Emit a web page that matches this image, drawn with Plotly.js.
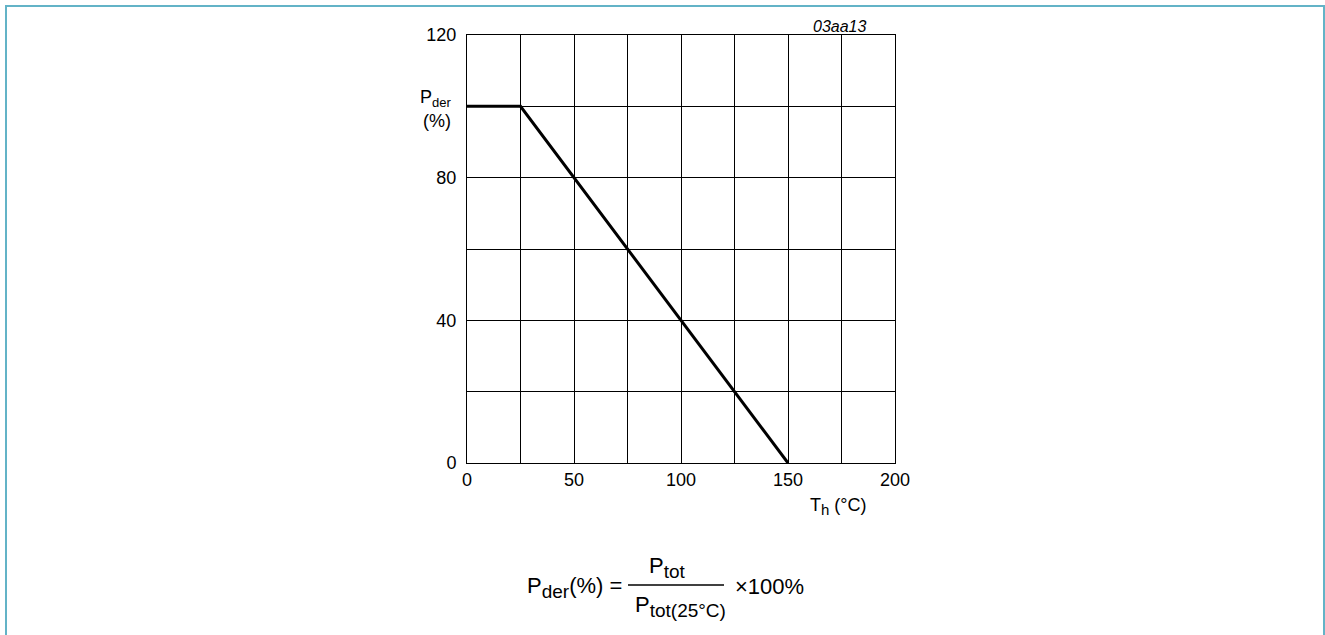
<!DOCTYPE html>
<html>
<head>
<meta charset="utf-8">
<script src="https://cdn.plot.ly/plotly-3.0.1.min.js"></script>
<style>
  html, body { margin: 0; padding: 0; background: #fff; overflow: hidden; }
  #frame { position: absolute; left: 5px; top: 5px; width: 1320px; height: 640px; box-sizing: border-box;
           border-left: 2px solid #63b3c7; border-top: 2px solid #63b3c7; border-right: 2px solid #63b3c7; }
  #chart { position: absolute; left: 0; top: 0; width: 1325px; height: 635px; }
</style>
</head>
<body>
<div id="frame"></div>
<div id="chart"></div>
<script>
// Data
const temperature = [0, 25, 150];      // T_h (°C)
const pderPercent = [100, 100, 0];     // P_der (%)
const xTickVals = [0, 50, 100, 150, 200];
const yTickVals = [0, 40, 80, 120];

const FONT = 'Liberation Sans, Arial, sans-serif';

const trace = {
  x: temperature,
  y: pderPercent,
  type: 'scatter',
  mode: 'lines',
  line: { color: '#000', width: 3 },
  hoverinfo: 'skip',
  showlegend: false
};

const sub = (t, px) => '<sub><span style="font-size:' + px + 'px">' + t + '</span></sub>';

const ann = (text, x, y, xanchor, size) => ({
  text: text, x: x, y: y, xref: 'paper', yref: 'paper',
  xanchor: xanchor, yanchor: 'middle', showarrow: false,
  font: { family: FONT, size: size, color: '#000' }
});

const layout = {
  width: 1325, height: 635,
  margin: { l: 467, r: 430, t: 35, b: 172, pad: 0 },
  paper_bgcolor: 'rgba(0,0,0,0)',
  plot_bgcolor: '#fff',
  showlegend: false,
  font: { family: FONT, size: 18, color: '#000' },
  xaxis: {
    range: [0, 200], tickmode: 'array', tickvals: xTickVals, ticktext: xTickVals.map(String),
    showgrid: true, gridcolor: '#000', gridwidth: 1,
    minor: { dtick: 25, showgrid: true, gridcolor: '#000', gridwidth: 1 },
    showline: true, linecolor: '#000', linewidth: 1, mirror: true,
    zeroline: false, ticks: '', ticklabelstandoff: 0,
    tickfont: { family: FONT, size: 18, color: '#000' },
    fixedrange: true
  },
  yaxis: {
    range: [0, 120], tickmode: 'array', tickvals: yTickVals, ticktext: yTickVals.map(String),
    showgrid: true, gridcolor: '#000', gridwidth: 1,
    minor: { dtick: 20, showgrid: true, gridcolor: '#000', gridwidth: 1 },
    showline: true, linecolor: '#000', linewidth: 1, mirror: true,
    zeroline: false, ticks: '', ticklabelstandoff: 6,
    tickfont: { family: FONT, size: 18, color: '#000' },
    fixedrange: true
  },
  annotations: [
    ann('P' + sub('der', 13), -0.1145, 0.852, 'left', 18),
    ann('(%)', -0.1075, 0.799, 'left', 18),
    ann('T' + sub('h', 15) + ' (°C)', 0.7967, -0.102, 'left', 18),
    ann('<i>03aa13</i>', 0.9369, 1.021, 'right', 16),
    ann('P' + sub('der', 19) + '(%) =', 0.1355, -0.292, 'left', 22),
    ann('P' + sub('tot', 19), 0.4206, -0.243, 'left', 22),
    ann('P' + sub('tot(25°C)', 19), 0.3879, -0.336, 'left', 22),
    ann('×100%', 0.6215, -0.2874, 'left', 22)
  ],
  shapes: [
    { type: 'line', xref: 'paper', yref: 'paper', x0: 0.3762, x1: 0.6005, y0: -0.2850, y1: -0.2850,
      line: { color: '#000', width: 1.5 } }
  ]
};

Plotly.newPlot('chart', [trace], layout, { staticPlot: true, displayModeBar: false });
</script>
</body>
</html>
